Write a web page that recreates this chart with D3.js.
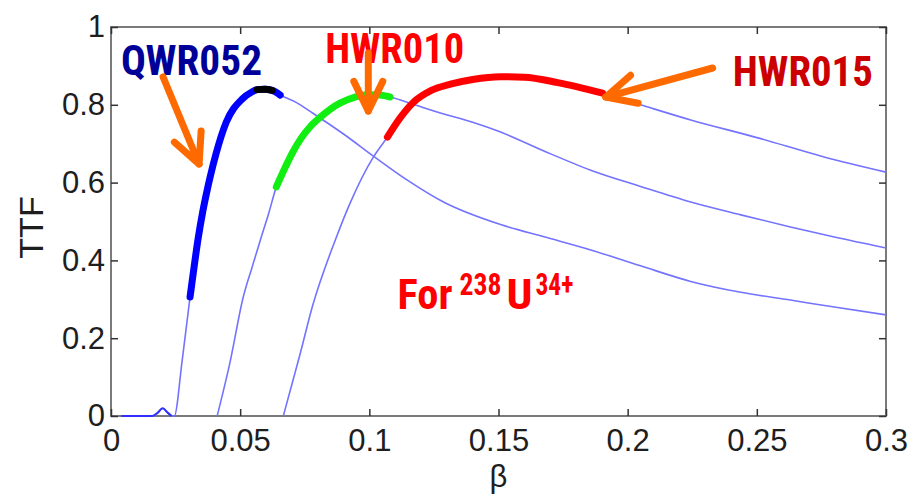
<!DOCTYPE html>
<html>
<head>
<meta charset="utf-8">
<script src="https://cdn.jsdelivr.net/npm/d3@7"></script>
<style>
  html, body { margin: 0; padding: 0; background: #fff; }
  svg { display: block; }
</style>
</head>
<body>
<svg id="chart" width="909" height="495"></svg>
<script>
// ---------------- data ----------------
const qwrBeta = [0.004,0.008,0.012,0.016,0.018,0.020,0.022,0.0235,0.0245,0.0275,0.0306,0.0322,0.0337,0.0355,0.0372,0.0384,0.0407,0.0446,0.0508,0.0545,0.0566,0.0595,0.0624,0.0655,0.072,0.078,0.09,0.1016,0.115,0.1287,0.1508,0.168,0.1857,0.205,0.2244,0.2438,0.263,0.28,0.3];
const qwrTTF  = [0,0,0,0,0.008,0.02,0.008,0,0,0.14,0.306,0.385,0.455,0.525,0.58,0.615,0.675,0.755,0.815,0.833,0.839,0.840,0.837,0.825,0.805,0.779,0.725,0.668,0.605,0.55,0.492,0.46,0.427,0.386,0.346,0.318,0.298,0.28,0.26];

const hwr010Beta = [0.0411,0.046,0.0512,0.0545,0.0578,0.061,0.064,0.0675,0.0705,0.0735,0.077,0.081,0.0888,0.0945,0.0992,0.104,0.108,0.1175,0.1275,0.14,0.1508,0.168,0.1857,0.205,0.2244,0.2438,0.263,0.28,0.3];
const hwr010TTF  = [0,0.136,0.306,0.38,0.452,0.52,0.589,0.64,0.68,0.713,0.743,0.768,0.805,0.82,0.826,0.825,0.82,0.80,0.779,0.755,0.73,0.68,0.632,0.59,0.55,0.517,0.486,0.46,0.432];

const hwr015Beta = [0.0667,0.0705,0.0733,0.0779,0.0868,0.0926,0.1016,0.107,0.112,0.117,0.124,0.1314,0.14,0.1508,0.16,0.1729,0.1903,0.205,0.2244,0.2504,0.276,0.3];
const hwr015TTF  = [0,0.093,0.162,0.28,0.452,0.548,0.666,0.717,0.767,0.806,0.837,0.853,0.865,0.872,0.871,0.857,0.83,0.8,0.761,0.715,0.666,0.627];

// operating (highlighted) beta ranges
const qwrRange    = [0.0306, 0.0655];
const qwrOptimum  = [0.0566, 0.0624];
const hwr010Range = [0.064, 0.108];
const hwr015Range = [0.107, 0.1903];

const xTickValues = [0, 0.05, 0.1, 0.15, 0.2, 0.25, 0.3];
const xTickLabels = ["0", "0.05", "0.1", "0.15", "0.2", "0.25", "0.3"];
const yTickValues = [0, 0.2, 0.4, 0.6, 0.8, 1];
const yTickLabels = ["0", "0.2", "0.4", "0.6", "0.8", "1"];

// ---------------- layout ----------------
const W = 909, H = 495;
const margin = { left: 111, top: 27, right: 23, bottom: 79 };
const svg = d3.select("#chart");
const x = d3.scaleLinear().domain([0, 0.3]).range([margin.left, W - margin.right]);
const y = d3.scaleLinear().domain([0, 1]).range([H - margin.bottom, margin.top]);

const zip = (bs, ts) => bs.map((b, i) => ({ b, t: ts[i] }));
const qwr = zip(qwrBeta, qwrTTF);
const h10 = zip(hwr010Beta, hwr010TTF);
const h15 = zip(hwr015Beta, hwr015TTF);
const within = (arr, r) => arr.filter(d => d.b >= r[0] - 1e-9 && d.b <= r[1] + 1e-9);

const line = d3.line().x(d => x(d.b)).y(d => y(d.t)).curve(d3.curveMonotoneX);

const tickFont = "'Liberation Sans', Arial, Helvetica, sans-serif";

// frame
svg.append("rect")
  .attr("x", x(0)).attr("y", y(1))
  .attr("width", x(0.3) - x(0)).attr("height", y(0) - y(1))
  .attr("fill", "none").attr("stroke", "#7a7a7a").attr("stroke-width", 2);

// axes (inward ticks)
const axB = d3.axisBottom(x).tickValues(xTickValues)
  .tickFormat((d, i) => xTickLabels[i]).tickSizeInner(-7).tickSizeOuter(0).tickPadding(13);
const axT = d3.axisTop(x).tickValues(xTickValues).tickFormat("").tickSizeInner(-7).tickSizeOuter(0);
const axL = d3.axisLeft(y).tickValues(yTickValues)
  .tickFormat((d, i) => yTickLabels[i]).tickSizeInner(-7).tickSizeOuter(0).tickPadding(6);
const axR = d3.axisRight(y).tickValues(yTickValues).tickFormat("").tickSizeInner(-7).tickSizeOuter(0);

function styleAxis(g) {
  g.select(".domain").remove();
  g.selectAll(".tick line").attr("stroke", "#333").attr("stroke-width", 1.5);
  g.selectAll(".tick text").attr("fill", "#1e1e1e")
    .style("font-family", tickFont).style("font-size", "31px");
}
svg.append("g").attr("transform", `translate(0,${y(0)})`).call(axB).call(styleAxis);
svg.append("g").attr("transform", `translate(0,${y(1)})`).call(axT).call(styleAxis);
svg.append("g").attr("transform", `translate(${x(0)},0)`).call(axL).call(styleAxis);
svg.append("g").attr("transform", `translate(${x(0.3)},0)`).call(axR).call(styleAxis);

// axis titles
svg.append("text")
  .attr("transform", `translate(43,${(y(0) + y(1)) / 2 + 6}) rotate(-90)`)
  .attr("text-anchor", "middle")
  .style("font-family", tickFont).style("font-size", "34px").attr("fill", "#1e1e1e")
  .text("TTF");
svg.append("text")
  .attr("x", x(0.15)).attr("y", 487)
  .attr("text-anchor", "middle")
  .style("font-family", tickFont).style("font-size", "31px").attr("fill", "#1e1e1e")
  .text("β");

// thin full curves
const thin = svg.append("g").attr("fill", "none").attr("stroke", "#7373ff")
  .attr("stroke-width", 1.6).attr("stroke-linejoin", "round");
[qwr, h10, h15].forEach(s => thin.append("path").attr("d", line(s)));
// darker low-beta baseline of QWR curve
svg.append("path").attr("d", line(qwr.filter(d => d.b <= 0.0235)))
  .attr("fill", "none").attr("stroke", "#3030ff").attr("stroke-width", 2);

// thick highlighted operating ranges
function thick(data, color, w) {
  svg.append("path").attr("d", line(data))
    .attr("fill", "none").attr("stroke", color).attr("stroke-width", w)
    .attr("stroke-linecap", "round").attr("stroke-linejoin", "round");
}
thick(within(qwr, qwrRange), "#0000ff", 7);
thick(within(qwr, qwrOptimum), "#000000", 7);
thick(within(h10, hwr010Range), "#11ee11", 7);
thick(within(h15, hwr015Range), "#ff0000", 7);

// ---------------- annotations ----------------
const labelFont = "'Liberation Sans Narrow', 'Arial Narrow', 'Roboto Condensed', 'Liberation Sans', Arial, sans-serif";
function label(txt, bx, ty, size, len, color) {
  svg.append("text")
    .attr("x", x(bx)).attr("y", y(ty))
    .attr("textLength", len).attr("lengthAdjust", "spacingAndGlyphs")
    .style("font-family", labelFont).style("font-weight", "bold").style("font-size", size + "px")
    .attr("fill", color).text(txt);
}
label("QWR052", 0.00388, 0.8766, 43, 141, "#000099");
label("HWR010", 0.0829, 0.9075, 42, 139, "#ff0000");
label("HWR015", 0.2407, 0.8483, 43, 140, "#cc0000");
label("For", 0.1109, 0.2751, 42, 55, "#ff0000");
label("238", 0.1349, 0.3110, 31, 42, "#ff0000");
label("U", 0.1531, 0.2751, 42, 26, "#ff0000");
label("34+", 0.1643, 0.3110, 31, 38, "#ff0000");

// arrows: tail (beta, ttf) -> tip (beta, ttf)
const arrows = [
  { from: [0.02016, 0.8715], to: [0.0341, 0.6478] },
  { from: [0.0996, 0.9332], to: [0.0996, 0.784] },
  { from: [0.2329, 0.8946], to: [0.1915, 0.820] }
];
const ag = svg.append("g").attr("fill", "none").attr("stroke", "#ff6a00")
  .attr("stroke-width", 7).attr("stroke-linecap", "round").attr("stroke-linejoin", "round");
arrows.forEach(a => {
  const x0 = x(a.from[0]), y0 = y(a.from[1]), x1 = x(a.to[0]), y1 = y(a.to[1]);
  const ang = Math.atan2(y0 - y1, x0 - x1);
  const L = 33, half = 26 * Math.PI / 180;
  const p1 = [x1 + L * Math.cos(ang + half), y1 + L * Math.sin(ang + half)];
  const p2 = [x1 + L * Math.cos(ang - half), y1 + L * Math.sin(ang - half)];
  ag.append("path").attr("d", `M${x0},${y0}L${x1},${y1}`);
  ag.append("path").attr("d", `M${p1[0]},${p1[1]}L${x1},${y1}L${p2[0]},${p2[1]}`);
});
</script>
</body>
</html>
